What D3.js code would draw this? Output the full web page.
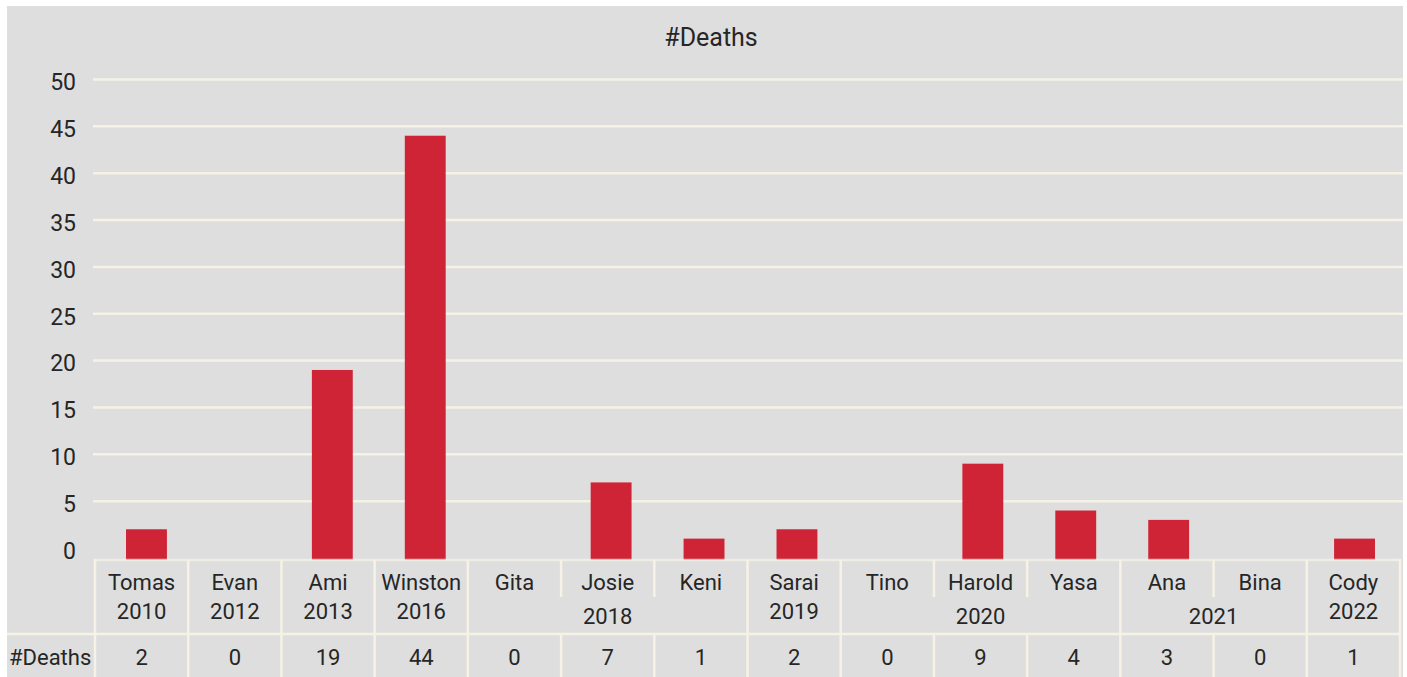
<!DOCTYPE html>
<html>
<head>
<meta charset="utf-8">
<script src="https://cdn.jsdelivr.net/npm/d3@7"></script>
<style>
  html, body { margin: 0; padding: 0; background: #ffffff; }
  svg { display: block; }
  text { font-family: Roboto, "Noto Sans", sans-serif; fill: #262626; }
</style>
</head>
<body>
<svg id="chart" width="1407" height="677"></svg>
<script>
// Storm names, their years and death counts
const names  = ["Tomas", "Evan", "Ami", "Winston", "Gita", "Josie", "Keni", "Sarai", "Tino", "Harold", "Yasa", "Ana", "Bina", "Cody"];
const years  = ["2010", "2012", "2013", "2016", "2018", "2018", "2018", "2019", "2020", "2020", "2020", "2021", "2021", "2022"];
const deaths = [2, 0, 19, 44, 0, 7, 1, 2, 0, 9, 4, 3, 0, 1];
const yTicks = [0, 5, 10, 15, 20, 25, 30, 35, 40, 45, 50];
const seriesName = "#Deaths";

const W = 1407, H = 677;
const panel = { x: 7, y: 6, w: 1396, h: 671 };
const tableTop = 560, headerBottom = 634, nameDivBottom = 597;
const tableLeft = 95, tableRight = 1400;

const bg = "#dedede", grid = "#f6f2e6", red = "#cf2436";

const svg = d3.select("#chart");

svg.append("rect")
  .attr("x", panel.x).attr("y", panel.y)
  .attr("width", panel.w).attr("height", panel.h)
  .attr("fill", bg);

// Scales
const y = d3.scaleLinear().domain([0, 50]).range([548, 79.5]);
const xCol = d3.scaleBand().domain(d3.range(names.length)).range([tableLeft, tableRight]);
const xBar = d3.scaleBand().domain(d3.range(names.length)).range([100, 1401]).paddingInner(0.56).paddingOuter(0.28);

// Title
svg.append("text")
  .attr("x", 711).attr("y", 46)
  .attr("text-anchor", "middle")
  .attr("font-size", 25)
  .text(seriesName);

// Gridlines (no line at zero, the table sits there)
svg.append("g").selectAll("line")
  .data(yTicks.filter(t => t > 0))
  .join("line")
  .attr("x1", 93).attr("x2", 1403)
  .attr("y1", d => y(d)).attr("y2", d => y(d))
  .attr("stroke", grid).attr("stroke-width", 2.5);

// Y axis labels
const yAxis = d3.axisLeft(y).tickValues(yTicks).tickSize(0).tickPadding(0);
const gy = svg.append("g").attr("transform", "translate(76,3)").call(yAxis);
gy.select(".domain").remove();
gy.selectAll("text")
  .attr("font-size", 23)
  .attr("font-family", "Roboto, 'Noto Sans', sans-serif")
  .attr("fill", "#262626");

// Bars, standing on the table's top edge
svg.append("g").selectAll("rect")
  .data(deaths)
  .join("rect")
  .attr("x", (d, i) => xBar(i))
  .attr("width", xBar.bandwidth())
  .attr("y", d => y(d))
  .attr("height", d => d > 0 ? tableTop - y(d) : 0)
  .attr("fill", red);

// Data table
const tbl = svg.append("g");
const line = (x1, y1, x2, y2, op) => tbl.append("line")
  .attr("x1", x1).attr("y1", y1).attr("x2", x2).attr("y2", y2)
  .attr("stroke", grid).attr("stroke-width", 2.5).attr("stroke-opacity", op || 1);

// Group consecutive identical years
const groups = [];
years.forEach((yr, i) => {
  const g = groups[groups.length - 1];
  if (g && g.year === yr) g.end = i; else groups.push({ year: yr, start: i, end: i });
});

line(tableLeft, tableTop, tableRight + 1, tableTop, 0.72);
line(panel.x, headerBottom, tableRight + 1, headerBottom);
line(tableLeft, tableTop - 1, tableLeft, H);
line(tableRight, tableTop - 1, tableRight, H);

names.forEach((n, i) => {
  if (i === 0) return;
  const xb = xCol(i);
  const sameGroup = years[i] === years[i - 1];
  if (sameGroup) {
    line(xb, tableTop, xb, nameDivBottom);
    line(xb, headerBottom, xb, H);
  } else {
    line(xb, tableTop, xb, H);
  }
});

const cx = i => xCol(i) + xCol.bandwidth() / 2;

// Category names
tbl.selectAll("text.name")
  .data(names)
  .join("text")
  .attr("class", "name")
  .attr("x", (d, i) => cx(i))
  .attr("y", 590)
  .attr("text-anchor", "middle")
  .attr("font-size", 22)
  .text(d => d);

// Year labels, centred on their group
tbl.selectAll("text.year")
  .data(groups)
  .join("text")
  .attr("class", "year")
  .attr("x", g => (xCol(g.start) + xCol(g.end) + xCol.bandwidth()) / 2)
  .attr("y", g => g.start === g.end ? 619 : 624)
  .attr("text-anchor", "middle")
  .attr("font-size", 22)
  .text(g => g.year);

// Row header and values
tbl.append("text")
  .attr("x", 9).attr("y", 665)
  .attr("font-size", 22)
  .text(seriesName);

tbl.selectAll("text.val")
  .data(deaths)
  .join("text")
  .attr("class", "val")
  .attr("x", (d, i) => cx(i))
  .attr("y", 665)
  .attr("text-anchor", "middle")
  .attr("font-size", 22)
  .text(d => d);
</script>
</body>
</html>
